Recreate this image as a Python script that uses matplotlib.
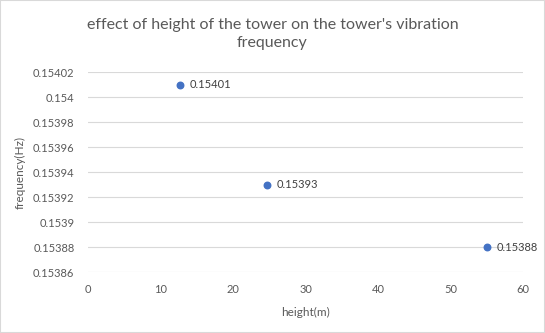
import matplotlib
matplotlib.use("Agg")
import matplotlib.pyplot as plt
from matplotlib.patches import Rectangle

# datos
height_m = [12.7, 24.6, 55]
freq_hz = [0.15401, 0.15393, 0.15388]
point_labels = ["0.15401", "0.15393", "0.15388"]
x_ticks = [0, 10, 20, 30, 40, 50, 60]
y_ticks = [0.15386, 0.15388, 0.1539, 0.15392, 0.15394, 0.15396, 0.15398, 0.154, 0.15402]

plt.rcParams['font.family'] = ['Lato', 'DejaVu Sans']
grey = '#595959'

fig = plt.figure(figsize=(5.45, 3.33), dpi=100)
fig.patches.append(Rectangle((0, 0), 1, 1, transform=fig.transFigure,
                             fill=False, edgecolor='#d9d9d9', linewidth=1.5))
ax = fig.add_axes([0.162, 0.182, 0.798, 0.601])

ax.scatter(height_m, freq_hz, s=22, color='#4472C4', zorder=3)
for x, y, lab in zip(height_m, freq_hz, point_labels):
    ax.annotate(lab, (x, y), xytext=(7, 0), textcoords='offset points',
                va='center', ha='left', fontsize=8, color='#404040')

ax.set_xlim(0, 60)
ax.set_ylim(y_ticks[0], y_ticks[-1])
ax.set_xticks(x_ticks)
ax.set_yticks(y_ticks)
ax.set_yticklabels(['%g' % v for v in y_ticks])
ax.grid(axis='y', color='#d9d9d9', linewidth=0.8)
ax.set_axisbelow(True)
for s in ax.spines.values():
    s.set_visible(False)
ax.tick_params(length=0, labelsize=8, colors=grey, pad=10)
ax.tick_params(axis='x', pad=8)

ax.set_xlabel('height(m)', fontsize=8.5, color=grey, labelpad=9)
ax.set_ylabel('frequency(Hz)', fontsize=8.5, color=grey, labelpad=5)

fig.text(0.5, 0.898, "effect of height of the tower on the tower's vibration\nfrequency",
         ha='center', va='center', fontsize=11.5, color=grey, linespacing=1.4)

fig.savefig('out.png', dpi=100)
